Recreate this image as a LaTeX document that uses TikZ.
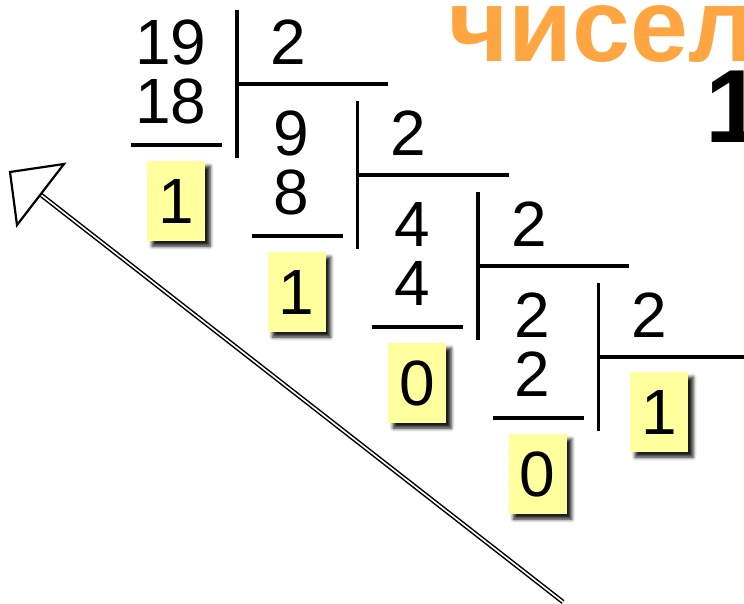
\documentclass[tikz,border=0pt]{standalone}
\usepackage{fontspec}
\setmainfont{Liberation Sans}
\usetikzlibrary{shadows.blur}
\definecolor{notepad}{RGB}{255,255,158}
\definecolor{titleorange}{RGB}{255,166,66}

\begin{document}
\begin{tikzpicture}[
    x=1pt, y=-1pt,
    digit/.style={font=\fontsize{64}{70}\selectfont, inner sep=0pt},
    bit/.style={
        rectangle, fill=notepad,
        minimum width=58pt, minimum height=80pt, inner sep=0pt,
        font=\fontsize{64}{70}\selectfont,
        blur shadow={shadow xshift=5pt, shadow yshift=-5pt,
                     shadow blur radius=3.5pt, shadow opacity=90}
    },
    rule/.style={line width=3.5pt},
    title/.style={anchor=base west, inner sep=0pt,
                  font=\bfseries\fontsize{104}{110}\selectfont},
]
\useasboundingbox (0,0) rectangle (744,604);
\clip (0,0) rectangle (744,604);

% Title (cut off at the edge)
\node[title, text=titleorange] (title) at (448,62) {чисел};
\node[title] (titlenum) at (705,143) {1};

% Division steps
\foreach \i/\num/\sub/\rem in {0/19/18/1, 1/9/8/1, 2/4/4/0, 3/2/2/0} {
  \begin{scope}[shift={(120.5*\i,91*\i)}]
    \node[digit] (num\i) at (171,42) {\num};
    \node[digit] (sub\i) at (171,101) {\sub};
    \node[digit] (dvsr\i) at (288,42) {2};
    \node[bit] (rem\i) at (176,201) {\rem};
    \draw[rule] (237,10) -- (237,158);
    \draw[rule] (237,84) -- (388,84);
    \draw[rule] (131,145) -- (222,145);
  \end{scope}
}

% Last quotient
\node[bit] (quot) at (659,412) {1};

% Reading direction arrow
\coordinate (tail) at (563,602);
\coordinate (tip) at (10,172);
\coordinate (headR) at (64,164);
\coordinate (headL) at (17,225);
\coordinate (headbase) at (40.5,194.5);
\draw[double, double distance=1.6pt, line width=1.5pt] (tail) -- (headbase);
\draw[line width=2.2pt, fill=white, line join=miter] (tip) -- (headR) -- (headL) -- cycle;

\end{tikzpicture}
\end{document}
